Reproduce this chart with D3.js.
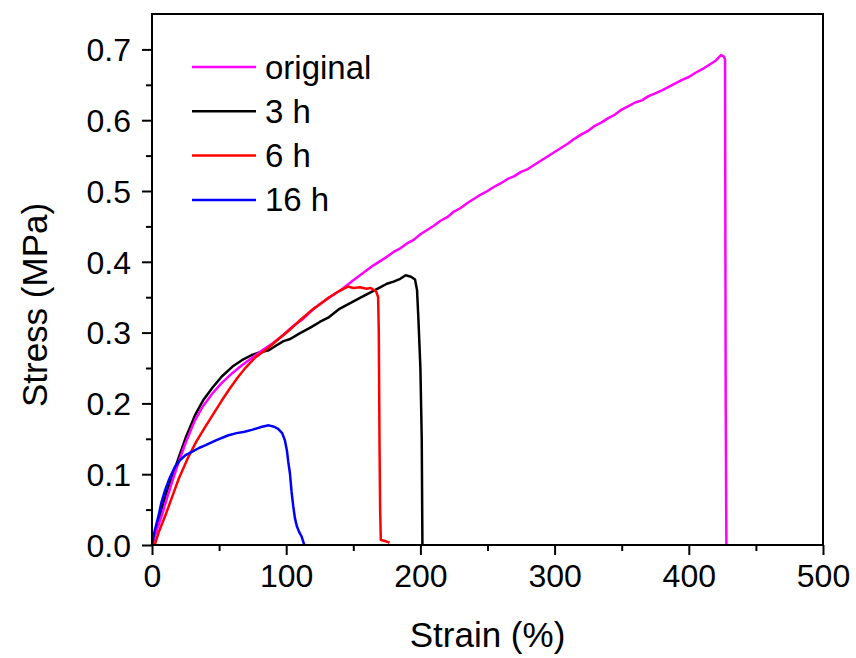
<!DOCTYPE html>
<html>
<head>
<meta charset="utf-8">
<script src="https://cdn.jsdelivr.net/npm/d3@7"></script>
<style>
	body { margin: 0; background: #fff; }
	text { font-family: Arial, 'Liberation Sans', sans-serif; fill: #000; }
</style>
</head>
<body>
<svg id="chart" width="856" height="658"></svg>
<script>

// series names + colours
var seriesNames = ['original', '3 h', '6 h', '16 h'];
var seriesColors = ['#ff00ff', '#000000', '#ff0000', '#0000ff'];

// tick values
var xTicks = [0, 100, 200, 300, 400, 500];
var yTicks = [0.0, 0.1, 0.2, 0.3, 0.4, 0.5, 0.6, 0.7];

// original - strain (%) / stress (MPa)
var origStrain = [0, 3, 7, 11, 15, 20, 25, 32, 38, 45, 52, 60, 67, 75, 83, 90, 98, 105, 113, 120, 128, 135, 142, 150,
	155, 160, 165, 170, 175, 180, 185, 190, 195, 200, 205, 210, 215, 220, 225, 230, 235, 240, 245, 250, 255, 260, 265,
	270, 275, 280, 285, 290, 295, 300, 305, 310, 315, 320, 325, 330, 335, 340, 345, 350, 355, 360, 365, 370, 375, 380,
	385, 390, 395, 400, 405, 410, 415, 420, 424, 426, 427, 427.5, 428];
var origStress = [0, 0.018, 0.040, 0.065, 0.089, 0.118, 0.144, 0.176, 0.196, 0.214, 0.229, 0.243, 0.254, 0.265, 0.276, 0.285, 0.297, 0.309, 0.320, 0.333, 0.344, 0.353, 0.362, 0.374,
	0.381, 0.388, 0.395, 0.401, 0.407, 0.414, 0.419, 0.426, 0.431, 0.439, 0.445, 0.451, 0.458, 0.463, 0.471, 0.476, 0.483, 0.489, 0.495, 0.500, 0.506, 0.511, 0.517,
	0.521, 0.527, 0.531, 0.537, 0.543, 0.549, 0.555, 0.561, 0.567, 0.574, 0.580, 0.585, 0.592, 0.597, 0.603, 0.608, 0.615, 0.620, 0.625, 0.628, 0.634, 0.638, 0.642,
	0.647, 0.652, 0.657, 0.661, 0.667, 0.672, 0.678, 0.684, 0.692, 0.690, 0.686, 0.2, 0];

// 3 h
var h3Strain = [0, 3, 7, 11, 15, 20, 25, 32, 38, 45, 52, 60, 67, 74, 80, 87, 92, 98, 103, 110, 118, 125, 132, 140, 147,
	155, 160, 165, 170, 175, 180, 185, 189, 193, 196, 197.5, 198.5, 200, 201, 201.5];
var h3Stress = [0, 0.020, 0.050, 0.075, 0.097, 0.124, 0.151, 0.183, 0.204, 0.222, 0.238, 0.252, 0.261, 0.268, 0.272, 0.275, 0.281, 0.288, 0.291, 0.299, 0.307, 0.315, 0.322, 0.334, 0.341,
	0.349, 0.354, 0.359, 0.364, 0.369, 0.372, 0.376, 0.381, 0.379, 0.375, 0.36, 0.32, 0.25, 0.15, 0];

// 6 h
var h6Strain = [2, 5, 10, 15, 20, 27, 33, 40, 46, 52, 58, 64, 70, 77, 87, 95, 102, 110, 118, 125, 132, 138, 143, 146,
	150, 155, 160, 163, 167, 168.5, 169, 169.5, 170, 170.5, 173, 176, 177];
var h6Stress = [0, 0.018, 0.042, 0.068, 0.094, 0.124, 0.146, 0.168, 0.186, 0.204, 0.221, 0.237, 0.251, 0.265, 0.279, 0.292, 0.303, 0.317, 0.330, 0.340, 0.350, 0.357, 0.362, 0.365,
	0.363, 0.364, 0.362, 0.363, 0.358, 0.350, 0.30, 0.15, 0.05, 0.007, 0.006, 0.004, 0.003];

// 16 h
var h16Strain = [0, 2, 4.7, 7, 9.7, 13, 17, 21, 25, 30, 35, 40, 48, 57, 63, 69, 75, 82, 87, 91, 94, 97, 99, 100.5,
	101.5, 102.8, 104, 105.3, 106.5, 108, 110, 111.5, 112.5, 113.5];
var h16Stress = [0, 0.020, 0.040, 0.060, 0.077, 0.094, 0.110, 0.120, 0.127, 0.132, 0.137, 0.141, 0.148, 0.155, 0.158, 0.160, 0.163, 0.167, 0.169, 0.167, 0.164, 0.158, 0.148, 0.134,
	0.118, 0.101, 0.075, 0.054, 0.038, 0.026, 0.017, 0.012, 0.006, 0];


var margin = {top: 14, right: 33, bottom: 113, left: 152};
var width = 856 - margin.left - margin.right;
var height = 658 - margin.top - margin.bottom;

var svg = d3.select('#chart');
var g = svg.append('g')
	.attr('transform', 'translate(' + margin.left + ',' + margin.top + ')');

var x = d3.scaleLinear().domain([0, 500]).range([0, width]);
var y = d3.scaleLinear().domain([0, 0.75]).range([height, 0]);

// pair up the arrays for the lines
function pairs(xs, ys) {
	var out = [];
	for (i=0; i<xs.length; i++){
		out.push([xs[i], ys[i]]);
	}
	return out;
}

var lineData = [
	pairs(h3Strain, h3Stress),
	pairs(origStrain, origStress),
	pairs(h6Strain, h6Stress),
	pairs(h16Strain, h16Stress)
];
var lineColor = [seriesColors[1], seriesColors[0], seriesColors[2], seriesColors[3]];

var line = d3.line()
	.x(function(d) { return x(d[0]); })
	.y(function(d) { return y(d[1]); });

for (i=0; i<lineData.length; i++){
	g.append('path')
		.datum(lineData[i])
		.attr('fill', 'none')
		.attr('stroke', lineColor[i])
		.attr('stroke-width', 2.5)
		.attr('stroke-linejoin', 'round')
		.attr('d', line);
}

// minor ticks first, majors on top
g.append('g')
	.attr('transform', 'translate(0,' + height + ')')
	.call(d3.axisBottom(x).tickValues([50, 150, 250, 350, 450]).tickSize(6).tickFormat(''))
	.call(function(a) { a.select('.domain').remove(); });

g.append('g')
	.call(d3.axisLeft(y).tickValues([0.05, 0.15, 0.25, 0.35, 0.45, 0.55, 0.65]).tickSize(6).tickFormat(''))
	.call(function(a) { a.select('.domain').remove(); });

var xAxis = g.append('g')
	.attr('transform', 'translate(0,' + height + ')')
	.call(d3.axisBottom(x).tickValues(xTicks).tickSize(10).tickPadding(8).tickFormat(d3.format('d')));

var yAxis = g.append('g')
	.call(d3.axisLeft(y).tickValues(yTicks).tickSize(10).tickPadding(11).tickFormat(d3.format('.1f')));

g.selectAll('.tick line')
	.attr('stroke', '#000')
	.attr('stroke-width', 2);

xAxis.selectAll('text').attr('font-size', 32).attr('dy', '0.75em');
yAxis.selectAll('text').attr('font-size', 32).attr('dy', '0.35em');
xAxis.select('.domain').remove();
yAxis.select('.domain').remove();

// frame round the plot
g.append('rect')
	.attr('width', width)
	.attr('height', height)
	.attr('fill', 'none')
	.attr('stroke', '#000')
	.attr('stroke-width', 2);

// axis titles
svg.append('text')
	.attr('x', margin.left + width / 2)
	.attr('y', 647)
	.attr('text-anchor', 'middle')
	.attr('font-size', 35)
	.text('Strain (%)');

svg.append('text')
	.attr('transform', 'translate(47,305) rotate(-90)')
	.attr('text-anchor', 'middle')
	.attr('font-size', 35)
	.text('Stress (MPa)');

// legend
var legend = svg.append('g').attr('class', 'legend');
for (i=0; i<seriesNames.length; i++){
	var ly = 67 + i * 44.3;
	legend.append('line')
		.attr('x1', 192)
		.attr('x2', 256)
		.attr('y1', ly)
		.attr('y2', ly)
		.attr('stroke', seriesColors[i])
		.attr('stroke-width', 2.5);
	legend.append('text')
		.attr('x', 265)
		.attr('y', ly)
		.attr('dy', '0.35em')
		.attr('font-size', 33)
		.text(seriesNames[i]);
}

</script>
</body>
</html>
